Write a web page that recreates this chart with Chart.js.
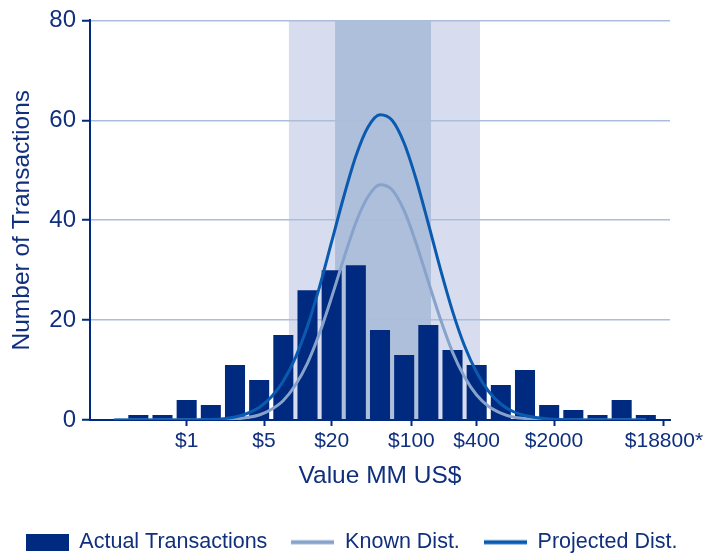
<!DOCTYPE html>
<html>
<head>
<meta charset="utf-8">
<title>Transactions by Value</title>
<script src="https://cdn.jsdelivr.net/npm/chart.js@4/dist/chart.umd.min.js"></script>
<style>
  html, body { margin: 0; padding: 0; background: #fff; }
  #chart { display: block; }
</style>
</head>
<body>
<canvas id="chart" width="703" height="555"></canvas>
<script>
// =======================================
// DATA
// =======================================

// value bins (position along the axis, one per bar)
const binIndex = [2, 3, 4, 5, 6, 7, 8, 9, 10, 11, 12, 13, 14, 15, 16, 17, 18, 19, 20, 21, 22, 23];
const actualCounts = [1, 1, 4, 3, 11, 8, 17, 26, 30, 31, 18, 13, 19, 14, 11, 7, 10, 3, 2, 1, 4, 1];

const curveX = [1, 3, 5, 6, 6.5, 7, 7.5, 8, 8.5, 9, 9.5, 10, 10.5, 11, 11.5, 12, 12.5, 13, 13.5, 14, 14.5, 15, 15.5, 16, 16.5, 17, 17.5, 18, 19, 21, 23];
const knownDist = [0, 0, 0, 0.2, 0.5, 1.0, 2.1, 3.9, 7.0, 11.4, 17.4, 24.6, 32.3, 39.5, 44.7, 47.1, 46.1, 41.9, 35.3, 27.7, 20.2, 13.6, 8.6, 5.0, 2.7, 1.4, 0.6, 0.3, 0, 0, 0];
const projectedDist = [0, 0, 0.1, 0.6, 1.3, 2.5, 4.6, 7.8, 12.5, 18.8, 26.7, 35.7, 44.7, 52.8, 58.6, 61.1, 60.0, 55.4, 48.1, 39.3, 30.2, 21.8, 14.8, 9.5, 5.7, 3.2, 1.7, 0.9, 0.2, 0, 0];

// x axis tick labels and where they sit along the bins
const tickLabels = ['$1', '$5', '$20', '$100', '$400', '$2000', '$18800*'];
const tickBins = [4, 7.2, 10, 13.3, 16, 19.2, 23.75];

// shaded ranges behind the bars
const outerBand = [8.23, 16.14];
const innerBand = [10.14, 14.11];

const seriesLabels = ['Actual Transactions', 'Known Dist.', 'Projected Dist.'];

// =======================================
// STYLE
// =======================================

const NAVY = '#002a7f';
const TEXT = '#10307e';
const KNOWN = '#87a3cc';
const PROJECTED = '#0a5bb0';
const FONT = '"Liberation Sans", Arial, Helvetica, sans-serif';

// small canvases used as legend swatches
function swatch(color, h) {
  const c = document.createElement('canvas');
  c.width = 43;
  c.height = 17;
  const g = c.getContext('2d');
  g.fillStyle = color;
  g.fillRect(0, (17 - h) / 2, 43, h);
  return c;
}
const swatches = [swatch(NAVY, 17), swatch(KNOWN, 4), swatch(PROJECTED, 4)];

// shaded bands, drawn before grid and bars
const bandsPlugin = {
  id: 'bands',
  beforeDraw(chart) {
    const { ctx, chartArea, scales } = chart;
    const x = scales.x;
    const fillBand = (band, color) => {
      const l = x.getPixelForValue(band[0]);
      const r = x.getPixelForValue(band[1]);
      ctx.fillStyle = color;
      ctx.fillRect(l, chartArea.top, r - l, chartArea.bottom - chartArea.top);
    };
    ctx.save();
    fillBand(outerBand, '#d7ddee');
    fillBand(innerBand, '#aebfdb');
    ctx.restore();
  }
};

// =======================================
// CHART
// =======================================

const ctx = document.getElementById('chart');

new Chart(ctx, {
  type: 'bar',
  data: {
    datasets: [
      {
        type: 'bar',
        label: seriesLabels[0],
        data: binIndex.map((x, i) => ({ x, y: actualCounts[i] })),
        backgroundColor: NAVY,
        barPercentage: 0.83,
        categoryPercentage: 1,
        order: 3,
      },
      {
        type: 'line',
        label: seriesLabels[1],
        data: curveX.map((x, i) => ({ x, y: knownDist[i] })),
        borderColor: KNOWN,
        borderWidth: 3,
        pointRadius: 0,
        cubicInterpolationMode: 'monotone',
        fill: false,
        order: 2,
      },
      {
        type: 'line',
        label: seriesLabels[2],
        data: curveX.map((x, i) => ({ x, y: projectedDist[i] })),
        borderColor: PROJECTED,
        borderWidth: 3,
        pointRadius: 0,
        cubicInterpolationMode: 'monotone',
        fill: false,
        order: 1,
      },
    ],
  },
  options: {
    responsive: false,
    animation: false,
    layout: { padding: { top: 20, right: 0, bottom: -8, left: 0 } },
    plugins: {
      tooltip: { enabled: false },
      legend: {
        position: 'bottom',
        labels: {
          usePointStyle: true,
          pointStyleWidth: 43,
          boxHeight: 17,
          padding: 24,
          color: TEXT,
          font: { family: FONT, size: 21.5 },
          generateLabels: (chart) =>
            chart.data.datasets.map((ds, i) => ({
              text: ds.label,
              pointStyle: swatches[i],
              fillStyle: 'transparent',
              strokeStyle: 'transparent',
              lineWidth: 0,
              fontColor: TEXT,
              hidden: false,
              datasetIndex: i,
            })),
        },
      },
    },
    scales: {
      x: {
        type: 'linear',
        min: 0,
        max: 24,
        offset: false,
        afterBuildTicks: (scale) => {
          scale.ticks = tickBins.map((v) => ({ value: v }));
        },
        afterFit: (scale) => {
          scale.height = 87.5;
          scale.paddingLeft = 0;
          scale.paddingRight = 33;
        },
        ticks: {
          autoSkip: false,
          maxRotation: 0,
          padding: 3,
          color: TEXT,
          font: { family: FONT, size: 21 },
          callback: (value, index) => tickLabels[index],
        },
        grid: {
          offset: false,
          drawOnChartArea: false,
          drawTicks: true,
          tickLength: 6,
          tickColor: NAVY,
          tickWidth: 2,
        },
        border: { display: true, color: NAVY, width: 2 },
        title: {
          display: true,
          text: 'Value MM US$',
          color: TEXT,
          font: { family: FONT, size: 24.5 },
          padding: { top: 0, bottom: 17 },
        },
      },
      y: {
        min: 0,
        max: 80,
        afterFit: (scale) => {
          scale.width = 90;
        },
        ticks: {
          stepSize: 20,
          padding: 6,
          color: TEXT,
          font: { family: FONT, size: 24 },
        },
        grid: {
          color: '#abbdda',
          lineWidth: 1.5,
          drawTicks: true,
          tickLength: 8,
          tickColor: NAVY,
          tickWidth: 2,
        },
        border: { display: true, color: NAVY, width: 2 },
        title: {
          display: true,
          text: 'Number of Transactions',
          color: TEXT,
          font: { family: FONT, size: 24.5 },
          padding: { top: 8, bottom: 0 },
        },
      },
    },
  },
  plugins: [bandsPlugin],
});
</script>
</body>
</html>
